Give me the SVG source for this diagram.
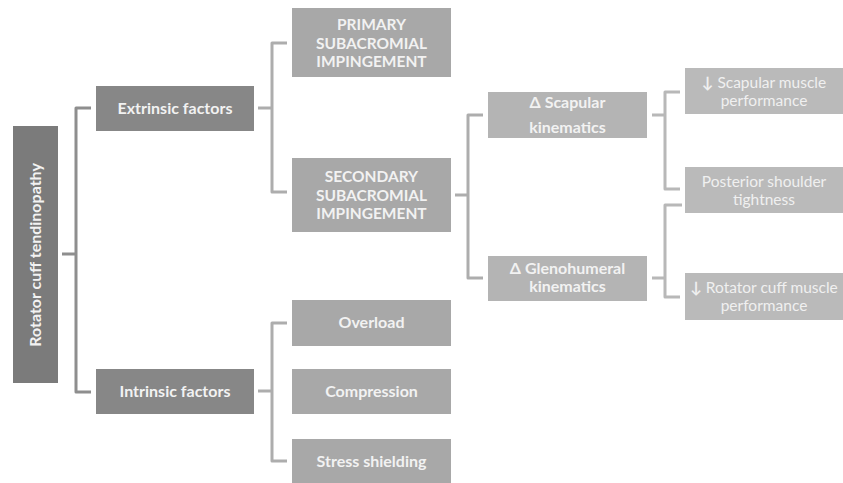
<svg xmlns="http://www.w3.org/2000/svg" width="843" height="483" viewBox="0 0 843 483">
<style>
.c{fill:none;stroke-width:3;stroke-linejoin:round}
.c0{stroke:#8e8e8e}.c1{stroke:#adadad}.c2{stroke:#b8b8b8}
.b{font-family:Lato,"Open Sans",sans-serif;font-weight:bold;fill:#f2f2f2;text-anchor:middle;font-size:16px}
.k{font-size:15.5px}
.r{font-family:Lato,"Open Sans",sans-serif;font-weight:normal;fill:#f0f0f0;text-anchor:middle;font-size:15.5px}
</style>
<rect width="843" height="483" fill="#fff"/>
<g id="connectors">
<path class="c c0" d="M62,254H76M91,108H76V392H91"/>
<path class="c c1" d="M258,108H272M287,43H272V192H287"/>
<path class="c c1" d="M258,391H272M287,323H272V461H287"/>
<path class="c c1" d="M455,195H468M483,115H468V278H483"/>
<path class="c c2" d="M652,115H665M680,92H665V189H680"/>
<path class="c c2" d="M652,278H665M682,205H665V297H680"/>
</g>
<g id="root"><rect x="13" y="126" width="45" height="257" fill="#7b7b7b"/>
<text class="b" font-size="16.5" transform="translate(41,255) rotate(-90)">Rotator cuff tendinopathy</text></g>
<g id="extrinsic"><rect x="96" y="86" width="158" height="45" fill="#878787"/>
<text class="b" x="175" y="114">Extrinsic factors</text></g>
<g id="intrinsic"><rect x="96" y="369" width="158" height="45" fill="#878787"/>
<text class="b" x="175" y="397">Intrinsic factors</text></g>
<g id="primary"><rect x="292" y="8" width="159" height="69" fill="#a8a8a8"/>
<text class="b k" x="371.5" y="30">PRIMARY</text>
<text class="b k" x="371.5" y="49">SUBACROMIAL</text>
<text class="b k" x="371.5" y="67">IMPINGEMENT</text></g>
<g id="secondary"><rect x="292" y="158" width="159" height="74" fill="#a8a8a8"/>
<text class="b k" x="371.5" y="182">SECONDARY</text>
<text class="b k" x="371.5" y="201">SUBACROMIAL</text>
<text class="b k" x="371.5" y="219">IMPINGEMENT</text></g>
<g id="overload"><rect x="292" y="300" width="159" height="46" fill="#a8a8a8"/>
<text class="b" x="371.5" y="328">Overload</text></g>
<g id="compression"><rect x="292" y="369" width="159" height="45" fill="#a8a8a8"/>
<text class="b" x="371.5" y="397">Compression</text></g>
<g id="stress"><rect x="292" y="439" width="159" height="44" fill="#a8a8a8"/>
<text class="b" x="371.5" y="467">Stress shielding</text></g>
<g id="scapular"><rect x="488" y="92" width="159" height="46" fill="#b4b4b4"/>
<text class="b" x="567.5" y="108">Δ Scapular</text>
<text class="b" x="567.5" y="133">kinematics</text></g>
<g id="glenohumeral"><rect x="488" y="256" width="159" height="45" fill="#b4b4b4"/>
<text class="b" x="567.5" y="274">Δ Glenohumeral</text>
<text class="b" x="567.5" y="292">kinematics</text></g>
<g id="scapmuscle"><rect x="685" y="68" width="158" height="46" fill="#bababa"/>
<text class="r" x="764" y="88"><tspan font-weight="bold">↓</tspan> Scapular muscle</text>
<text class="r" x="764" y="106">performance</text></g>
<g id="posterior"><rect x="685" y="167" width="158" height="46" fill="#bababa"/>
<text class="r" x="764" y="187">Posterior shoulder</text>
<text class="r" x="764" y="205">tightness</text></g>
<g id="rcmuscle"><rect x="685" y="273" width="158" height="47" fill="#bababa"/>
<text class="r" x="764" y="293"><tspan font-weight="bold">↓</tspan> Rotator cuff muscle</text>
<text class="r" x="764" y="311">performance</text></g>
</svg>
